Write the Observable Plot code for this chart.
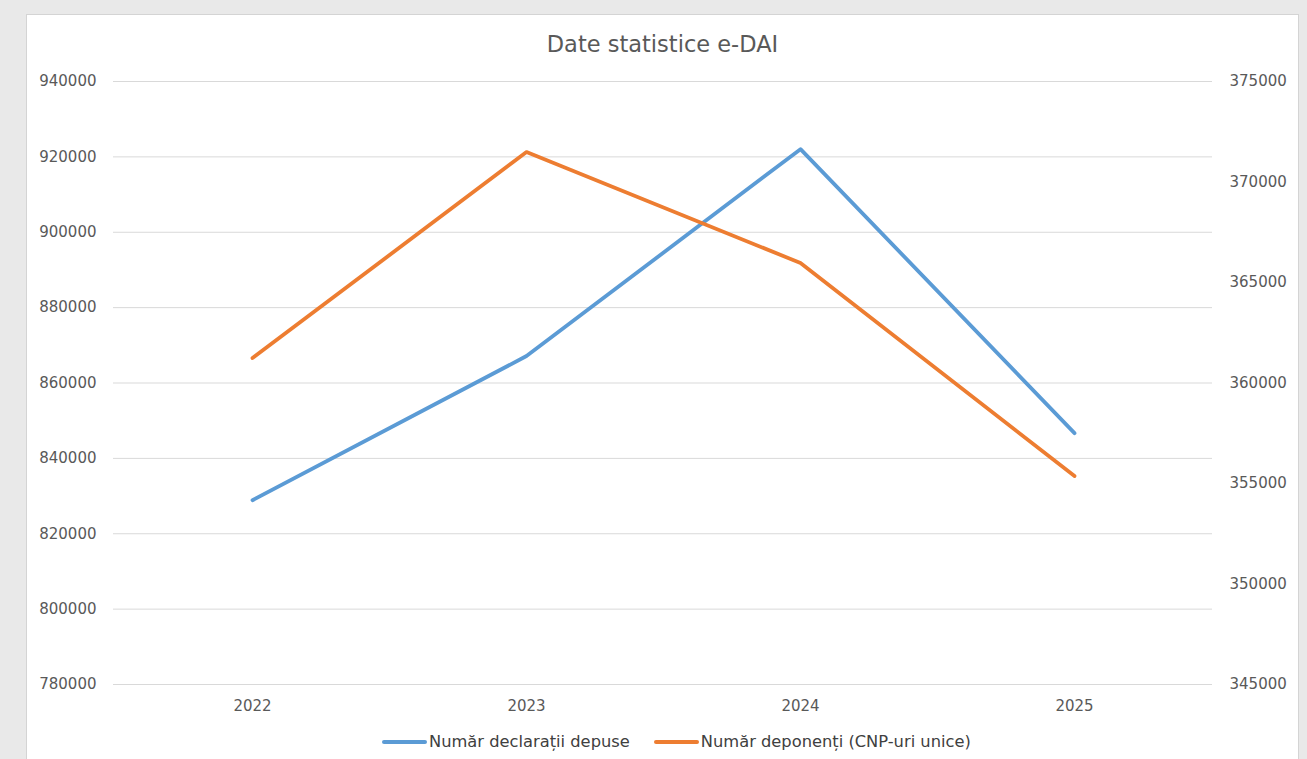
<!DOCTYPE html>
<html><head><meta charset="utf-8">
<script src="https://cdn.jsdelivr.net/npm/d3@7"></script>
<script src="https://cdn.jsdelivr.net/npm/@observablehq/plot@0.6"></script>
<style>
body{margin:0;background:#e9e9e9;width:1307px;height:759px;overflow:hidden;position:relative;font-family:"DejaVu Sans",sans-serif;}
#panel{position:absolute;left:26px;top:14px;width:1271px;height:760px;background:#fff;border:1px solid #d4d4d4;}
#title{position:absolute;left:0;top:31px;width:1325px;text-align:center;font-size:22.5px;line-height:26px;color:#595959;}
#chart{position:absolute;left:0;top:0;}
#legend{position:absolute;left:382px;top:732px;display:flex;align-items:center;font-size:16.3px;line-height:20px;color:#404040;}
.sw{display:inline-block;width:45px;height:3.5px;border-radius:2px;margin-right:2px;}
.item{display:flex;align-items:center;margin-right:24px;}
</style></head>
<body>
<div id="panel"></div>
<div id="chart"></div>
<div id="title">Date statistice e-DAI</div>
<div id="legend"></div>
<script>
const years = ["2022", "2023", "2024", "2025"];
const declaratii = [828900, 867150, 922050, 846700];
const deponenti = [361240, 371490, 365970, 355370];
const leftTicks = [780000, 800000, 820000, 840000, 860000, 880000, 900000, 920000, 940000];
const rightTicks = [345000, 350000, 355000, 360000, 365000, 370000, 375000];
const seriesNames = ["Număr declarații depuse", "Număr deponenți (CNP-uri unice)"];
const seriesColors = ["#5B9BD5", "#ED7D31"];

const L0 = 780000, L1 = 940000, R0 = 345000, R1 = 375000;
const toLeft = v => L0 + (v - R0) * (L1 - L0) / (R1 - R0);
const fromLeft = v => R0 + (v - L0) * (R1 - R0) / (L1 - L0);

const blue = years.map((y, i) => ({year: y, v: declaratii[i]}));
const orange = years.map((y, i) => ({year: y, v: toLeft(deponenti[i])}));

const chart = Plot.plot({
  width: 1307, height: 759,
  marginLeft: 113, marginRight: 95, marginTop: 81, marginBottom: 75,
  style: {background: "transparent", fontFamily: "DejaVu Sans", fontSize: "15px", color: "#595959"},
  x: {type: "point", domain: years, padding: 0.5, label: null},
  y: {domain: [L0, L1], label: null},
  marks: [
    Plot.gridY(leftTicks, {stroke: "#d9d9d9", strokeOpacity: 1, strokeWidth: 1}),
    Plot.axisY(leftTicks, {anchor: "left", tickSize: 0, tickPadding: 17, tickFormat: d => String(d), label: null}),
    Plot.axisY(rightTicks.map(toLeft), {anchor: "right", tickSize: 0, tickPadding: 17, tickFormat: d => String(Math.round(fromLeft(d))), label: null}),
    Plot.axisX(years, {tickSize: 0, tickPadding: 16, label: null}),
    Plot.line(blue, {x: "year", y: "v", stroke: seriesColors[0], strokeWidth: 3.8, strokeLinecap: "round", strokeLinejoin: "round"}),
    Plot.line(orange, {x: "year", y: "v", stroke: seriesColors[1], strokeWidth: 3.8, strokeLinecap: "round", strokeLinejoin: "round"})
  ]
});
document.getElementById("chart").appendChild(chart);

const leg = document.getElementById("legend");
seriesNames.forEach((n, i) => {
  const it = document.createElement("div");
  it.className = "item";
  const sw = document.createElement("span");
  sw.className = "sw";
  sw.style.background = seriesColors[i];
  it.appendChild(sw);
  it.appendChild(document.createTextNode(n));
  leg.appendChild(it);
});
</script>
</body></html>
